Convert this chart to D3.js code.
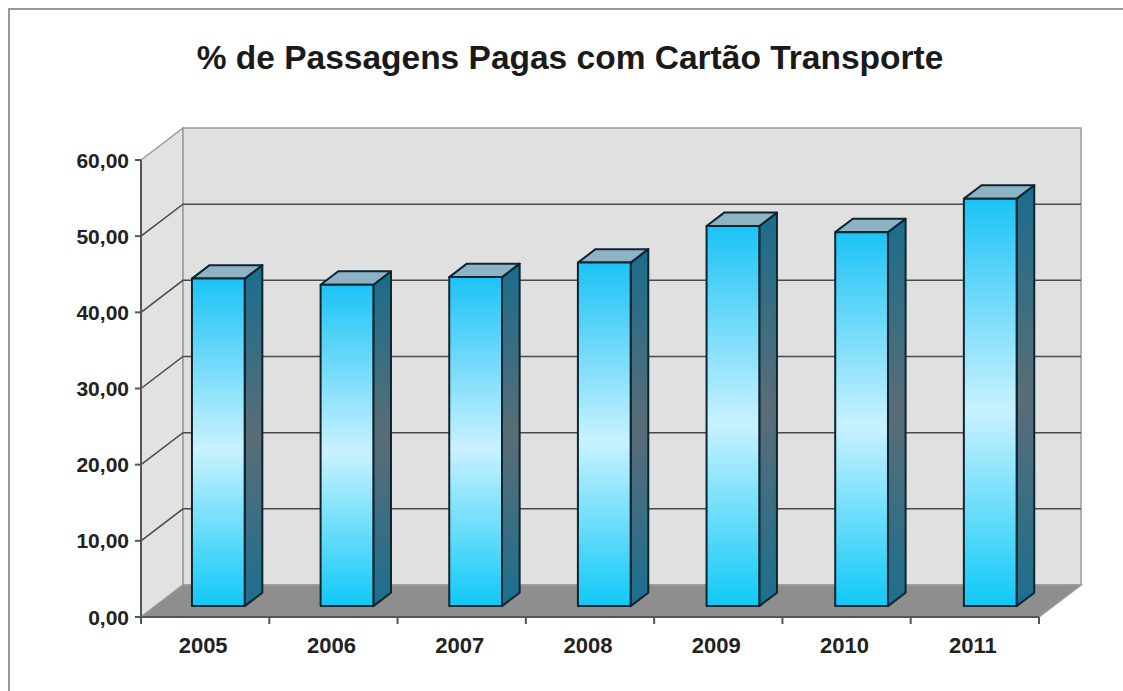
<!DOCTYPE html>
<html><head><meta charset="utf-8">
<script src="https://cdn.jsdelivr.net/npm/d3@7"></script>
<style>html,body{margin:0;padding:0;background:#fff;}svg{display:block;}</style>
</head><body>
<svg id="chart" width="1123" height="691"></svg>
<script>
const title = "% de Passagens Pagas com Cartão Transporte";
const years = ["2005","2006","2007","2008","2009","2010","2011"];
const values = [43.0, 42.2, 43.2, 45.1, 49.9, 49.1, 53.5];
const yTicks = [0,10,20,30,40,50,60];

(function(){
const svg = d3.select("#chart");
const W = 1123, H = 691;
const pLeft = 141, pRight = 1039, pBottom = 617, pTop = 160;
const DX = 42, DY = -32;     // full depth vector
const f1 = 0.34, f2 = 0.76;  // bar depth range

const y = d3.scaleLinear().domain([0,60]).range([pBottom, pTop]);
const xCat = d3.scaleBand().domain(years).range([pLeft, pRight]).padding(0);
const xBar = d3.scaleBand().domain(years).range([pLeft, pRight]).paddingInner(0.59).paddingOuter(0.285);

const defs = svg.append("defs");
const gFront = defs.append("linearGradient").attr("id","gFront").attr("x1",0).attr("y1",0).attr("x2",0).attr("y2",1);
[[0,"#1cc3f6"],[0.52,"#c9f2ff"],[1,"#0fc9f7"]].forEach(s=>gFront.append("stop").attr("offset",s[0]).attr("stop-color",s[1]));
const gSide = defs.append("linearGradient").attr("id","gSide").attr("x1",0).attr("y1",0).attr("x2",0).attr("y2",1);
[[0,"#1a6d8d"],[0.5,"#5a6d76"],[1,"#1b6f8f"]].forEach(s=>gSide.append("stop").attr("offset",s[0]).attr("stop-color",s[1]));

// frame
svg.append("rect").attr("x",9).attr("y",9).attr("width",W+20).attr("height",H+20)
  .attr("fill","#fff").attr("stroke","#9a9a9a").attr("stroke-width",2);

// title
svg.append("text").attr("x",570).attr("y",69).attr("text-anchor","middle")
  .attr("font-family","Liberation Sans, Arial, sans-serif").attr("font-weight","bold")
  .attr("font-size",33.5).attr("fill","#1a1a1a").text(title);

const pt = (x,yy,f)=>[x+DX*f, yy+DY*f];
const poly = pts => pts.map(p=>p.join(",")).join(" ");

// side wall
svg.append("polygon").attr("points", poly([pt(pLeft,y(60),0),pt(pLeft,y(60),1),pt(pLeft,y(0),1),pt(pLeft,y(0),0)]))
  .attr("fill","#e2e2e2").attr("stroke","#9a9a9a").attr("stroke-width",1.5);
// back wall
svg.append("polygon").attr("points", poly([pt(pLeft,y(60),1),pt(pRight,y(60),1),pt(pRight,y(0),1),pt(pLeft,y(0),1)]))
  .attr("fill","#e0e0e0").attr("stroke","#9a9a9a").attr("stroke-width",1.5);
// floor
svg.append("polygon").attr("points", poly([pt(pLeft,y(0),0),pt(pLeft,y(0),1),pt(pRight,y(0),1),pt(pRight,y(0),0)]))
  .attr("fill","#8e8e8e").attr("stroke","#9a9a9a").attr("stroke-width",1.5);

// gridlines
const grid = svg.append("g");
yTicks.filter(t=>t>0 && t<60).forEach(t=>{
  grid.append("polyline").attr("points", poly([pt(pLeft,y(t),0),pt(pLeft,y(t),1),pt(pRight,y(t),1)]))
    .attr("fill","none").attr("stroke","#4a4a4a").attr("stroke-width",1.5);
});

// axes
const axG = svg.append("g").attr("stroke","#555").attr("stroke-width",2);
axG.append("line").attr("x1",pLeft).attr("x2",pLeft).attr("y1",pTop).attr("y2",pBottom+7);
axG.append("line").attr("x1",pLeft).attr("x2",pRight).attr("y1",pBottom).attr("y2",pBottom);
yTicks.forEach(t=>axG.append("line").attr("x1",pLeft-6).attr("x2",pLeft).attr("y1",y(t)).attr("y2",y(t)));
years.forEach(d=>axG.append("line").attr("x1",xCat(d)+xCat.bandwidth()).attr("x2",xCat(d)+xCat.bandwidth()).attr("y1",pBottom).attr("y2",pBottom+7));

const fmt = v => d3.format(".2f")(v).replace(".",",");
svg.append("g").selectAll("text").data(yTicks).join("text")
  .attr("x",pLeft-12).attr("y",t=>y(t)).attr("dy","0.36em").attr("text-anchor","end")
  .attr("font-family","Liberation Sans, Arial, sans-serif").attr("font-weight","bold")
  .attr("font-size",21).attr("fill","#222").text(fmt);
svg.append("g").selectAll("text").data(years).join("text")
  .attr("x",d=>xCat(d)+xCat.bandwidth()/2-2).attr("y",653).attr("text-anchor","middle")
  .attr("font-family","Liberation Sans, Arial, sans-serif").attr("font-weight","bold")
  .attr("font-size",22).attr("fill","#222").text(d=>d);

// bars
const bars = svg.append("g");
years.forEach((d,i)=>{
  const x0 = xBar(d), x1 = xBar(d)+xBar.bandwidth();
  const v = values[i];
  const g = bars.append("g").attr("stroke","#0c2530").attr("stroke-width",2).attr("stroke-linejoin","round");
  g.append("polygon").attr("points", poly([pt(x1,y(v),f1),pt(x1,y(v),f2),pt(x1,y(0),f2),pt(x1,y(0),f1)]))
    .attr("fill","url(#gSide)");
  g.append("polygon").attr("points", poly([pt(x0,y(v),f1),pt(x1,y(v),f1),pt(x1,y(v),f2),pt(x0,y(v),f2)]))
    .attr("fill","#8db3c4");
  const p0 = pt(x0,y(v),f1), p1 = pt(x1,y(0),f1);
  g.append("rect").attr("x",p0[0]).attr("y",p0[1]).attr("width",p1[0]-p0[0]).attr("height",p1[1]-p0[1])
    .attr("fill","url(#gFront)");
});
})();
</script>
</body></html>
